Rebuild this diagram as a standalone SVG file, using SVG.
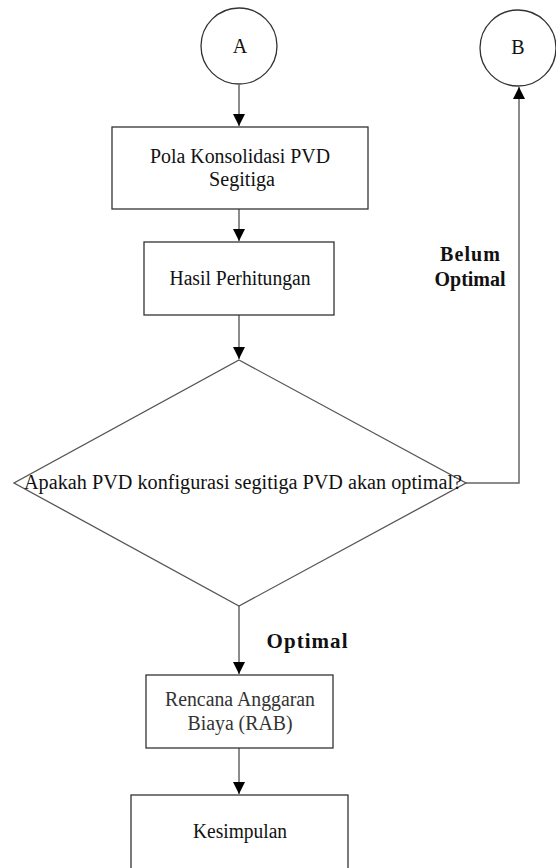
<svg xmlns="http://www.w3.org/2000/svg" width="556" height="868" viewBox="0 0 556 868">
<style>
.n{fill:#fff;stroke:#333;stroke-width:1.3}
.d{fill:#fff;stroke:#555;stroke-width:1.3}
.c{fill:none;stroke:#666;stroke-width:1.5}
text{font-family:"Liberation Serif","Times New Roman",serif;text-anchor:middle;fill:#111}
.t{font-size:20px}
.b{font-weight:bold}
</style>
<defs>
<marker id="ah" markerWidth="12" markerHeight="12" refX="10" refY="5" orient="auto" markerUnits="userSpaceOnUse" viewBox="0 0 10 10">
<path d="M0,0 L10,5 L0,10 Z" fill="#000"/>
</marker>
</defs>
<g id="connectors">
<line class="c" x1="239" y1="85" x2="239" y2="126" marker-end="url(#ah)"/>
<line class="c" x1="239" y1="209" x2="239" y2="241" marker-end="url(#ah)"/>
<line class="c" x1="239" y1="315" x2="239" y2="359" marker-end="url(#ah)"/>
<polyline class="c" points="466,483 519,483 519,87" marker-end="url(#ah)"/>
<line class="c" x1="239" y1="606" x2="239" y2="674" marker-end="url(#ah)"/>
<line class="c" x1="239" y1="748" x2="239" y2="794" marker-end="url(#ah)"/>
<text class="b" x="470" y="261" font-size="20" textLength="60">Belum</text>
<text class="b" x="470" y="286" font-size="20" textLength="71">Optimal</text>
<text class="b" x="307" y="648" font-size="21" textLength="81">Optimal</text>
</g>
<g id="A">
<circle class="n" cx="239" cy="46" r="38"/>
<text class="t" x="240" y="53">A</text>
</g>
<g id="B">
<circle class="n" cx="518" cy="48" r="38"/>
<text class="t" x="518" y="54">B</text>
</g>
<g id="pola">
<rect class="n" x="112" y="127" width="256" height="82"/>
<text class="t" x="240" y="163" textLength="180" lengthAdjust="spacingAndGlyphs">Pola Konsolidasi PVD</text>
<text class="t" x="242" y="186" textLength="66" lengthAdjust="spacingAndGlyphs">Segitiga</text>
</g>
<g id="hasil">
<rect class="n" x="144" y="242" width="190" height="73"/>
<text class="t" x="240" y="285" textLength="141" lengthAdjust="spacingAndGlyphs">Hasil Perhitungan</text>
</g>
<g id="decision">
<polygon class="d" points="239,360 466,483 239,606 14,483"/>
<text class="t" x="243" y="489" textLength="438" lengthAdjust="spacingAndGlyphs">Apakah PVD konfigurasi segitiga  PVD akan optimal?</text>
</g>
<g id="rab">
<rect class="n" x="146" y="675" width="187" height="73"/>
<text class="t" x="240" y="706" textLength="150" lengthAdjust="spacingAndGlyphs" style="fill:#333">Rencana Anggaran</text>
<text class="t" x="240" y="730" textLength="105" lengthAdjust="spacingAndGlyphs" style="fill:#333">Biaya (RAB)</text>
</g>
<g id="kesimpulan">
<rect class="n" x="131" y="795" width="217" height="90"/>
<text class="t" x="240" y="838" textLength="94" lengthAdjust="spacingAndGlyphs">Kesimpulan</text>
</g>
</svg>
